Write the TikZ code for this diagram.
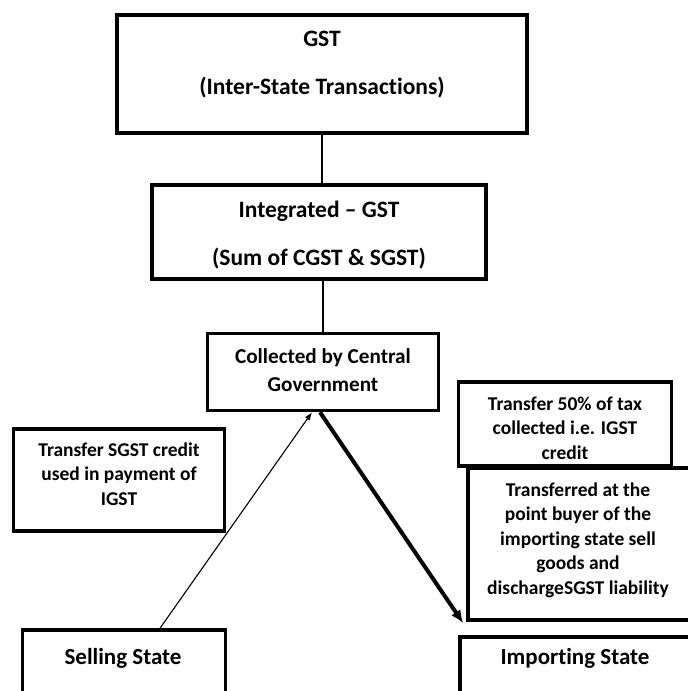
\documentclass[tikz,border=0pt]{standalone}
\usepackage{fontspec}
\setmainfont[Ligatures=NoCommon]{Carlito}
\usetikzlibrary{arrows.meta}
\begin{document}
\begin{tikzpicture}[x=1pt,y=-1pt,
  box/.style={draw, line width=3.5pt, inner sep=0pt, fill=white},
  bigtxt/.style={font=\bfseries\fontsize{23.5}{48}\selectfont, align=center, inner sep=0pt},
  midtxt/.style={font=\bfseries\fontsize{21.2}{28}\selectfont, align=center, inner sep=0pt},
  stxt/.style={font=\bfseries\fontsize{23}{28}\selectfont, align=center, inner sep=0pt},
  smalltxt/.style={font=\bfseries\fontsize{19.5}{24.5}\selectfont, align=center, inner sep=0pt},
  link/.style={line width=1.2pt},
  thinarrow/.style={line width=1.1pt, -{Latex[length=8pt,width=6pt]}},
  thickarrow/.style={line width=4pt, -{Latex[length=13pt,width=11pt]}}]
\useasboundingbox (0,0) rectangle (688,691);
\clip (0,0) rectangle (688,691);
% boxes
\node[box, minimum width=410pt, minimum height=118pt] (gst) at (322,74) {};
\node[box, minimum width=334pt, minimum height=94pt] (igst) at (319,232) {};
\node[box, minimum width=231pt, minimum height=77pt] (cg) at (323,372) {};
\node[box, minimum width=211pt, minimum height=102pt] (sgst) at (119,480) {};
\node[box, minimum width=203pt, minimum height=80pt] (sell) at (124,670) {};
\node[box, minimum width=213pt, minimum height=84pt] (fifty) at (565,424) {};
\node[box, minimum width=240pt, minimum height=152pt] (trans) at (588,544) {};
\node[box, minimum width=240pt, minimum height=80pt] (imp) at (580,677) {};
% texts
\node[bigtxt] (gst-t) at (322,65) {GST\\(Inter-State Transactions)};
\node[bigtxt] (igst-t) at (319,235) {Integrated -- GST\\(Sum of CGST \& SGST)};
\node[midtxt] (cg-t) at (323,370) {Collected by Central\\Government};
\node[smalltxt] (sgst-t) at (119,474) {Transfer SGST credit\\used in payment of\\IGST};
\node[stxt] (sell-t) at (123,658) {Selling State};
\node[smalltxt] (fifty-t) at (565,428) {Transfer 50\% of tax\\collected i.e. IGST\\credit};
\node[smalltxt] (trans-t) at (578,540) {Transferred at the\\point buyer of the\\importing state sell\\goods and\\dischargeSGST liability};
\node[stxt] (imp-t) at (575,658) {Importing State};
% connectors
\draw[link] (gst.south) -- (gst.south |- igst.north);
\draw[link] ([xshift=4pt]igst.south) -- ([xshift=4pt]igst.south |- cg.north);
\draw[thinarrow] ([xshift=36pt]sell.north) -- ([xshift=-11pt]cg.south);
\draw[thickarrow] ([xshift=-3pt]cg.south) -- ([xshift=5pt,yshift=12pt]imp.north west);
\end{tikzpicture}
\end{document}
